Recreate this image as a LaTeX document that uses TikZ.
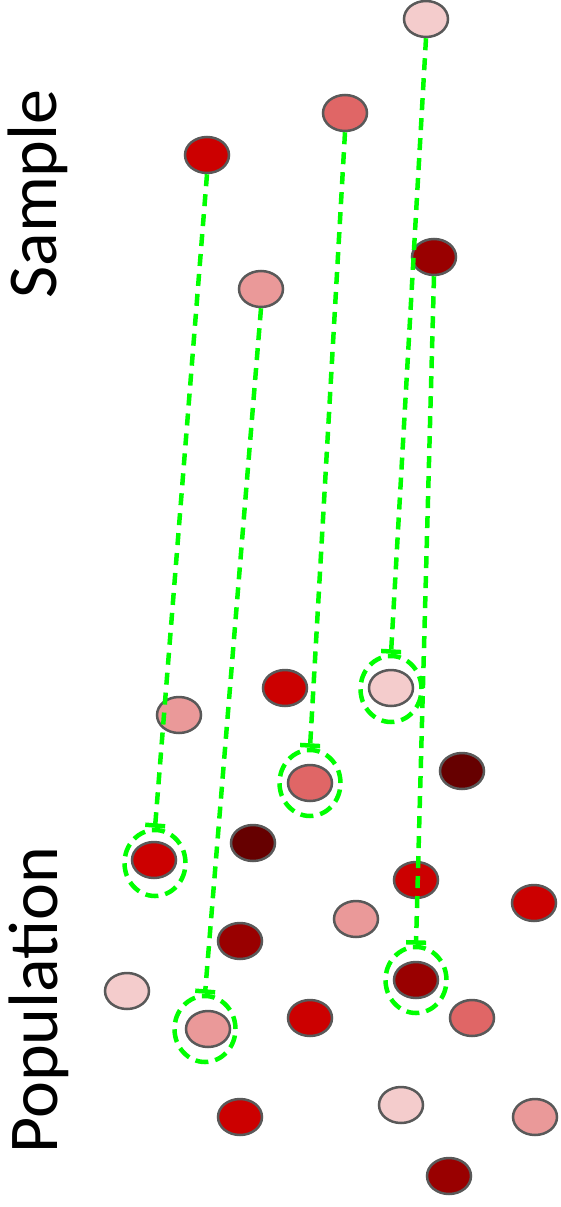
\documentclass[tikz,border=0pt]{standalone}
\usepackage{fontspec}
\setmainfont{Carlito}
\usetikzlibrary{shapes.geometric,arrows.meta}
\definecolor{lpink}{HTML}{F4CCCC}
\definecolor{mpink}{HTML}{EA9999}
\definecolor{salmon}{HTML}{E06666}
\definecolor{rred}{HTML}{CC0000}
\definecolor{dred}{HTML}{990000}
\definecolor{ddred}{HTML}{660000}
\definecolor{outl}{HTML}{595959}
\definecolor{lgreen}{HTML}{00FF00}
\tikzset{
  dot/.style={ellipse, draw=outl, line width=2.5pt, minimum width=44pt, minimum height=36pt, inner sep=0pt, fill=#1},
  ring/.style={ellipse, draw=lgreen, line width=4.5pt, dash pattern=on 13pt off 7pt, minimum width=61pt, minimum height=66pt, inner sep=0pt},
  link/.style={draw=lgreen, line width=4.5pt, dash pattern=on 12pt off 8pt, -{Bar[width=20pt,line width=4.5pt]}},
  lab/.style={rotate=90, anchor=base, font=\fontsize{70}{84}\selectfont, inner sep=0pt}
}
\begin{document}
\begin{tikzpicture}[x=1pt,y=-1pt]
\useasboundingbox (0,0) rectangle (561,1207);
% labels
\node[lab] (sample) at (56,194) {Sample};
\node[lab] (pop) at (57,1000) {Population};
% sample
\node[dot=lpink] (s1) at (426,19) {};
\node[dot=salmon] (s2) at (345,113) {};
\node[dot=rred] (s3) at (207,155) {};
\node[dot=mpink] (s4) at (261,289) {};
\node[dot=dred] (s5) at (434,257) {};
% population
\node[dot=mpink] (p1) at (179,715) {};
\node[dot=rred] (p2) at (285,688) {};
\node[dot=lpink] (p3) at (391,688) {};
\node[dot=salmon] (p4) at (310,783) {};
\node[dot=ddred] (p5) at (462,771) {};
\node[dot=ddred] (p6) at (253,843) {};
\node[dot=rred] (p7) at (154,860) {};
\node[dot=rred] (p8) at (416,880) {};
\node[dot=rred] (p9) at (534,903) {};
\node[dot=mpink] (p10) at (356,919) {};
\node[dot=dred] (p11) at (240,941) {};
\node[dot=dred] (p12) at (416,980) {};
\node[dot=lpink] (p13) at (127,991) {};
\node[dot=mpink] (p14) at (208,1029) {};
\node[dot=rred] (p15) at (310,1018) {};
\node[dot=salmon] (p16) at (472,1018) {};
\node[dot=rred] (p17) at (240,1117) {};
\node[dot=lpink] (p18) at (401,1105) {};
\node[dot=mpink] (p19) at (535,1117) {};
\node[dot=dred] (p20) at (449,1176) {};
% rings
\node[ring] (r1) at (391,689) {};
\node[ring] (r2) at (310,783) {};
\node[ring] (r3) at (155,863) {};
\node[ring] (r4) at (416,980) {};
\node[ring] (r5) at (205,1029) {};
% links
\draw[link] (s1.south) -- (r1.north);
\draw[link] (s2.south) -- (r2.north);
\draw[link] (s3.south) -- (r3.north);
\draw[link] (s5.south) -- (r4.north);
\draw[link] (s4.south) -- (r5.north);
\end{tikzpicture}
\end{document}
